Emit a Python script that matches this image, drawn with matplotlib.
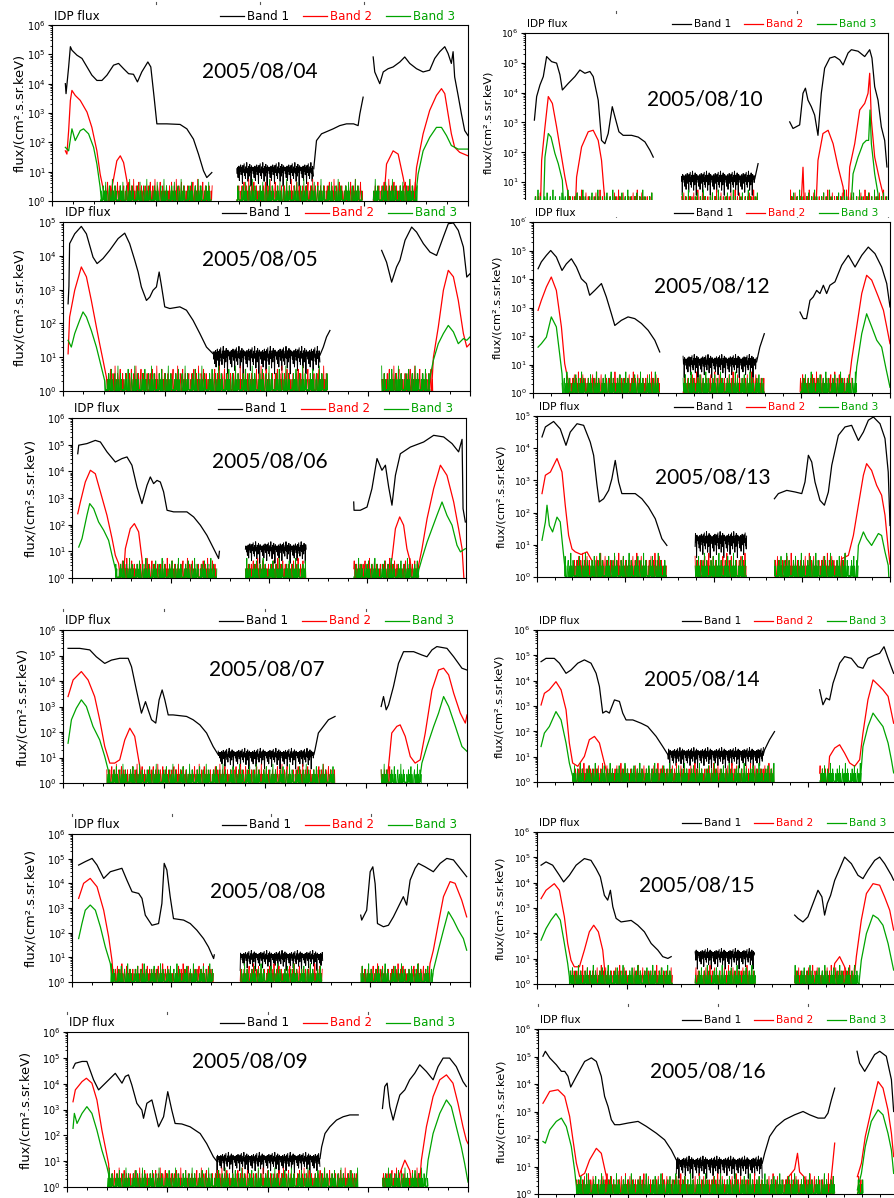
import numpy as np
import matplotlib
matplotlib.use("Agg")
import matplotlib.pyplot as plt
from matplotlib.lines import Line2D
from matplotlib.patches import Rectangle
from matplotlib.ticker import MultipleLocator

W, H = 894, 1198
BLACK, RED, GREEN = "#000000", "#ff0000", "#00a400"
YLABEL = "flux/(cm².s.sr.keV)"

# typical count levels of the noisy floors
floor_red = [0.5, 2.2, 1.1, 3.3, 0.5, 1.1, 2.2, 4.4, 0.5, 1.1, 2.2, 0.5, 3.3, 1.1, 2.2, 0.5,
             5.5, 1.1, 2.2, 0.5, 1.1, 3.3, 2.2, 0.5, 1.1, 2.2, 4.4, 1.1, 0.5, 2.2, 1.1, 3.3,
             0.5, 2.2, 1.1, 0.5, 2.2, 1.1, 3.3, 0.5, 1.1]
floor_green = [1.1, 0.5, 2.2, 1.1, 0.5, 3.3, 1.1, 2.2, 0.5, 1.1, 4.4, 0.5, 2.2, 1.1, 0.5, 1.1,
               2.2, 3.3, 0.5, 1.1, 2.2, 0.5, 1.1, 5.5, 0.5, 2.2, 1.1, 0.5, 3.3, 1.1, 2.2, 0.5, 1.1]
# log10 scatter of band 1 around its quiet level
jit_b1 = [0.05, -0.12, 0.10, -0.25, 0.02, 0.14, -0.35, 0.08, -0.04, 0.18, -0.15, 0.00, 0.11,
          -0.45, 0.16, -0.08, 0.06, 0.22, -0.18, 0.03, -0.28, 0.12, -0.06, 0.26, -0.10, 0.05,
          -0.38, 0.13, 0.00, -0.20, 0.20, -0.07, 0.09, -0.55, 0.15, -0.02, 0.10]

# every curve: (hour of day, log10 flux); q = quiet band-1 stretch (start, end, log10 level)
# f = stretches where band 2 / band 3 sit on the count floor

# ---- 2005/08/04
b1_0804 = [[(0.77, 4.0), (0.81, 3.66), (0.96, 4.57), (1.06, 5.26), (1.15, 5.14), (1.44, 4.97), (1.73, 4.86),
            (2.02, 4.57), (2.30, 4.29), (2.59, 4.11), (2.88, 4.11), (3.17, 4.29), (3.55, 4.63), (3.84, 4.69),
            (4.13, 4.51), (4.42, 4.34), (4.70, 4.32), (4.93, 4.06), (5.18, 4.40), (5.53, 4.74), (5.70, 4.57),
            (5.89, 3.54), (6.05, 2.63), (6.62, 2.63), (7.39, 2.61), (7.78, 2.46), (8.16, 2.11), (8.45, 1.60),
            (8.74, 1.03), (8.93, 0.80), (9.12, 0.91), (9.22, 0.97)],
           [(15.1, 1.1), (15.26, 2.06), (15.55, 2.29), (16.22, 2.46), (16.6, 2.57), (16.99, 2.63), (17.4, 2.63),
            (17.66, 2.57), (17.76, 2.97), (17.95, 3.54)],
           [(18.53, 4.91), (18.62, 4.40), (18.91, 4.0), (19.11, 4.40), (19.39, 4.51), (19.68, 4.57), (20.07, 4.74),
            (20.35, 4.91), (20.64, 4.69), (21.03, 4.51), (21.41, 4.40), (21.79, 4.46), (22.08, 4.86), (22.37, 5.09),
            (22.66, 5.26), (22.85, 5.03), (23.04, 4.69), (23.14, 5.09), (23.23, 4.23), (23.43, 3.60), (23.62, 2.97),
            (23.81, 2.40), (24.0, 2.23)]]
q1_0804 = [(10.66, 15.1, 1.05)]
b2_0804 = [[(0.77, 1.71), (0.86, 1.60), (0.96, 2.40), (1.06, 3.43), (1.15, 3.77), (1.34, 3.60), (1.63, 3.43),
            (2.02, 3.03), (2.30, 2.51), (2.59, 1.71), (2.78, 0.91), (2.98, 0.34), (3.1, -0.3)],
           [(3.3, -0.3), (3.46, 0.46), (3.74, 1.37), (3.94, 1.54), (4.13, 1.31), (4.32, 0.69), (4.51, -0.3)],
           [(19.1, -0.3), (19.30, 1.26), (19.68, 1.71), (19.97, 1.60), (20.26, 0.80), (20.45, 0.17), (20.6, -0.3)],
           [(20.85, -0.3), (21.03, 1.14), (21.41, 2.29), (21.79, 3.09), (22.18, 3.60), (22.47, 3.83), (22.66, 3.66),
            (22.85, 2.97), (23.04, 2.29), (23.23, 1.83), (23.52, 1.66), (24.0, 1.54)]]
f2_0804 = [(3.0, 9.25), (10.66, 17.95), (18.53, 21.0)]
b3_0804 = [[(0.77, 1.83), (0.96, 1.71), (1.15, 2.46), (1.34, 2.06), (1.63, 2.40), (1.82, 2.46), (2.11, 2.29),
            (2.40, 1.83), (2.59, 1.26), (2.78, 0.46), (2.9, -0.3)],
           [(20.9, -0.3), (21.12, 0.91), (21.41, 1.71), (21.79, 2.17), (22.18, 2.51), (22.47, 2.51), (22.76, 2.23),
            (23.04, 1.89), (23.43, 1.77), (24.0, 1.77)]]
f3_0804 = [(2.8, 9.2), (10.66, 17.95), (18.53, 21.1)]

# ---- 2005/08/05
b1_0805 = [[(0.30, 2.58), (0.35, 3.1), (0.39, 4.36), (0.69, 4.65), (1.08, 4.87), (1.38, 4.65), (1.77, 3.96),
            (2.01, 3.77), (2.36, 3.92), (2.75, 4.16), (3.25, 4.51), (3.64, 4.67), (3.93, 4.36), (4.23, 3.87),
            (4.43, 3.52), (4.62, 3.08), (4.92, 2.68), (5.12, 2.78), (5.31, 2.98), (5.51, 3.08), (5.67, 3.52),
            (5.80, 3.13), (6.00, 2.49), (6.30, 2.44), (6.89, 2.49), (7.28, 2.39), (7.67, 2.09), (8.07, 1.70),
            (8.46, 1.30), (8.85, 1.10)],
           [(15.15, 1.06), (15.35, 1.30), (15.54, 1.60), (15.74, 1.79)],
           [(18.79, 4.16), (19.08, 3.81), (19.38, 3.22), (19.67, 3.67), (19.87, 3.87), (20.17, 4.46), (20.56, 4.85),
            (20.85, 4.70), (21.25, 4.36), (21.64, 4.11), (22.03, 4.01), (22.43, 4.56), (22.72, 4.95), (23.02, 4.97),
            (23.31, 4.75), (23.61, 4.26), (23.81, 3.37), (24.0, 3.47)]]
q1_0805 = [(8.85, 15.15, 1.06)]
b2_0805 = [[(0.30, 1.10), (0.39, 2.19), (0.69, 2.98), (1.08, 3.67), (1.38, 3.38), (1.67, 2.68), (1.97, 1.89),
            (2.16, 1.40), (2.36, 0.91), (2.56, 0.41), (2.7, -0.3)],
           [(21.7, -0.3), (21.84, 0.99), (22.13, 1.89), (22.43, 2.98), (22.72, 3.57), (23.02, 3.38), (23.31, 2.68),
            (23.61, 1.70), (23.81, 1.30), (24.0, 1.40)]]
f2_0805 = [(2.56, 15.6), (18.79, 21.84)]
b3_0805 = [[(0.30, 1.50), (0.49, 1.30), (0.69, 1.70), (0.98, 2.09), (1.18, 2.34), (1.38, 2.19), (1.67, 1.79),
            (1.97, 1.30), (2.26, 0.71), (2.46, 0.3), (2.55, -0.3)],
           [(21.5, -0.3), (21.64, 0.4), (21.84, 0.91), (22.13, 1.40), (22.43, 1.70), (22.72, 1.94), (23.02, 1.75),
            (23.31, 1.40), (23.61, 1.55), (23.81, 1.50), (24.0, 1.60)]]
f3_0805 = [(2.46, 15.6), (18.79, 21.64)]

# ---- 2005/08/06
b1_0806 = [[(0.35, 4.66), (0.41, 4.98), (0.91, 5.04), (1.42, 5.16), (1.73, 5.10), (2.13, 4.73), (2.64, 4.35),
            (3.05, 4.48), (3.35, 4.54), (3.65, 4.23), (3.96, 3.41), (4.26, 2.79), (4.57, 3.48), (4.77, 3.79),
            (4.97, 3.54), (5.18, 3.66), (5.38, 3.60), (5.58, 3.23), (5.79, 2.54), (6.19, 2.48), (7.0, 2.48),
            (7.41, 2.29), (7.82, 1.98), (8.22, 1.60), (8.63, 1.10), (8.93, 0.73), (8.98, 1.0)],
           [(17.16, 2.85), (17.18, 2.54), (17.56, 2.54), (17.97, 2.66), (18.27, 3.35), (18.58, 4.48), (18.88, 4.04),
            (19.09, 4.23), (19.29, 3.41), (19.49, 2.73), (19.70, 3.85), (20.0, 4.66), (20.61, 4.91), (21.42, 5.10),
            (22.03, 5.35), (22.64, 5.29), (23.15, 5.04), (23.55, 4.73), (23.76, 5.20), (23.80, 3.5), (23.82, 2.60),
            (23.96, 2.10)]]
q1_0806 = [(10.56, 14.27, 1.1)]
b2_0806 = [[(0.35, 2.41), (0.51, 2.85), (0.81, 3.60), (1.12, 4.04), (1.42, 3.91), (1.73, 3.23), (2.13, 2.35),
            (2.44, 1.48), (2.64, 0.85), (2.84, 0.54), (3.0, -0.3)],
           [(3.1, -0.3), (3.25, 1.10), (3.55, 1.85), (3.80, 2.04), (4.06, 1.73), (4.26, 0.73), (4.37, -0.3)],
           [(19.2, -0.3), (19.49, 0.73), (19.70, 1.85), (19.96, 2.29), (20.2, 1.98), (20.4, 1.10), (20.61, 0.60),
            (20.75, -0.3)],
           [(21.0, -0.3), (21.12, 0.5), (21.32, 1.10), (21.63, 2.23), (22.03, 3.35), (22.44, 4.23), (22.84, 3.85),
            (23.25, 2.85), (23.55, 1.85), (23.76, 1.10), (23.86, 0.10), (23.9, -0.3)]]
f2_0806 = [(2.8, 8.83), (10.56, 14.27), (17.16, 21.12)]
b3_0806 = [[(0.41, 1.16), (0.61, 1.48), (0.91, 2.35), (1.08, 2.79), (1.32, 2.60), (1.62, 2.10), (1.93, 1.79),
            (2.23, 1.41), (2.44, 0.85), (2.64, 0.35), (2.75, -0.3)],
           [(21.0, -0.3), (21.12, 0.3), (21.32, 0.73), (21.63, 1.35), (21.93, 1.85), (22.23, 2.35), (22.54, 2.85),
            (22.84, 2.35), (23.15, 1.98), (23.45, 1.23), (23.66, 0.98), (23.96, 1.10)]]
f3_0806 = [(2.64, 8.83), (10.56, 14.27), (17.16, 21.12)]

# ---- 2005/08/07
b1_0807 = [[(0.30, 5.28), (0.99, 5.28), (1.59, 5.22), (1.98, 4.95), (2.48, 4.69), (2.88, 4.82), (3.37, 4.89),
            (3.87, 4.89), (4.07, 4.56), (4.36, 3.65), (4.66, 2.74), (4.90, 3.19), (5.06, 2.87), (5.26, 2.48),
            (5.51, 2.35), (5.71, 3.26), (5.89, 3.65), (6.05, 3.26), (6.25, 2.67), (6.54, 2.67), (7.34, 2.61),
            (7.73, 2.48), (8.13, 2.28), (8.53, 1.96), (8.92, 1.43), (9.22, 1.11)],
           [(14.9, 1.11), (14.97, 1.30), (15.17, 1.96), (15.47, 2.22), (15.77, 2.48), (16.16, 2.61)],
           [(18.90, 3.0), (19.04, 3.39), (19.20, 2.87), (19.34, 3.06), (19.63, 3.78), (19.93, 4.69), (20.23, 5.15),
            (20.83, 5.15), (21.32, 5.02), (21.62, 4.95), (21.92, 5.22), (22.21, 5.35), (22.81, 5.28), (23.21, 4.95),
            (23.70, 4.50), (24.0, 4.43)]]
q1_0807 = [(9.22, 14.9, 1.1)]
b2_0807 = [[(0.30, 3.39), (0.60, 4.04), (1.09, 4.37), (1.49, 4.04), (1.88, 3.39), (2.18, 2.48), (2.48, 1.43),
            (2.78, 0.78), (3.07, 0.78), (3.37, 0.91), (3.67, 1.69), (3.97, 2.15), (4.26, 1.83), (4.56, 0.65),
            (4.7, -0.3)],
           [(19.2, -0.3), (19.53, 1.96), (19.83, 2.22), (20.03, 2.28), (20.33, 1.83), (20.63, 1.04), (20.92, 0.78),
            (21.22, 0.91), (21.52, 1.96), (21.92, 3.65), (22.31, 4.43), (22.61, 4.50), (22.91, 4.24), (23.21, 3.52),
            (23.60, 2.74), (23.90, 2.35), (24.0, 2.67)]]
f2_0807 = [(2.6, 16.16), (18.90, 19.5)]
b3_0807 = [[(0.30, 1.56), (0.50, 2.48), (0.79, 2.93), (1.09, 3.26), (1.39, 3.00), (1.78, 2.22), (2.18, 1.69),
            (2.48, 1.04), (2.68, 0.52), (2.8, -0.3)],
           [(21.1, -0.3), (21.32, 0.78), (21.62, 1.43), (22.02, 2.22), (22.31, 2.74), (22.61, 3.39), (22.91, 3.00),
            (23.31, 2.22), (23.70, 1.43), (24.0, 1.24)]]
f3_0807 = [(2.6, 16.16), (18.90, 21.32)]

# ---- 2005/08/08
b1_0808 = [[(0.40, 4.74), (0.80, 4.88), (1.21, 5.01), (1.51, 4.74), (1.91, 4.20), (2.31, 4.47), (3.01, 4.61),
            (3.31, 4.13), (3.62, 3.66), (4.02, 3.59), (4.22, 3.39), (4.42, 2.71), (4.82, 2.30), (5.22, 2.37),
            (5.42, 3.18), (5.56, 4.81), (5.72, 4.54), (5.92, 3.46), (6.12, 2.57), (6.73, 2.51), (7.13, 2.37),
            (7.53, 2.10), (7.93, 1.76), (8.23, 1.42), (8.54, 0.95), (8.58, 1.1)],
           [(17.41, 2.71), (17.47, 2.51), (17.77, 2.91), (17.98, 4.47), (18.14, 4.67), (18.28, 3.98), (18.42, 2.37),
            (18.78, 2.24), (19.08, 2.30), (19.38, 2.64), (19.68, 3.05), (19.98, 3.46), (20.18, 3.12), (20.39, 4.13),
            (20.69, 4.61), (20.89, 4.81), (21.29, 4.67), (21.79, 4.47), (22.20, 4.81), (22.60, 5.01), (23.0, 4.95),
            (23.40, 4.61), (23.80, 4.27)]]
q1_0808 = [(10.14, 15.12, 1.02)]
b2_0808 = [[(0.40, 3.39), (0.70, 4.0), (1.10, 4.20), (1.51, 3.86), (1.91, 2.91), (2.21, 1.83), (2.41, 0.88),
            (2.55, -0.3)],
           [(21.45, -0.3), (21.59, 0.75), (21.79, 1.29), (22.09, 2.37), (22.40, 3.46), (22.80, 4.07), (23.10, 4.00),
            (23.50, 3.32), (23.80, 2.64)]]
f2_0808 = [(2.41, 8.54), (10.14, 15.12), (17.41, 21.59)]
b3_0808 = [[(0.40, 1.76), (0.60, 2.37), (0.80, 2.91), (1.10, 3.12), (1.41, 2.91), (1.71, 2.24), (2.01, 1.42),
            (2.31, 0.75), (2.41, 0.2), (2.5, -0.3)],
           [(21.65, -0.3), (21.79, 0.47), (22.09, 1.29), (22.40, 2.10), (22.70, 2.85), (23.0, 2.51), (23.30, 2.10),
            (23.60, 1.76), (23.80, 1.29)]]
f3_0808 = [(2.31, 8.54), (10.14, 15.12), (17.41, 21.79)]

# ---- 2005/08/09
b1_0809 = [[(0.36, 4.60), (0.50, 4.79), (0.90, 4.86), (1.19, 4.86), (1.59, 4.15), (1.89, 3.76), (2.39, 4.08),
            (2.89, 4.40), (3.29, 4.02), (3.49, 4.28), (3.68, 4.34), (3.88, 3.95), (4.18, 3.24), (4.48, 2.98),
            (4.58, 2.66), (4.78, 3.24), (5.08, 3.37), (5.28, 2.85), (5.48, 2.33), (5.78, 2.72), (6.03, 3.69),
            (6.27, 2.98), (6.47, 2.46), (6.87, 2.44), (7.37, 2.33), (7.97, 2.07), (8.36, 1.68), (8.76, 1.17),
            (8.96, 1.0)],
           [(15.14, 1.1), (15.24, 1.55), (15.44, 2.07), (15.73, 2.33), (16.13, 2.59), (16.53, 2.72), (16.93, 2.79),
            (17.43, 2.79)],
           [(18.88, 3.04), (19.02, 3.89), (19.16, 4.02), (19.32, 3.11), (19.52, 2.59), (19.72, 3.11), (19.92, 3.56),
            (20.22, 3.76), (20.51, 4.15), (20.81, 4.40), (21.11, 4.73), (21.51, 4.47), (21.91, 4.15), (22.21, 4.66),
            (22.51, 4.99), (22.90, 4.99), (23.30, 4.66), (23.70, 4.08), (23.90, 3.89)]]
q1_0809 = [(8.96, 15.14, 1.08)]
b2_0809 = [[(0.36, 3.30), (0.50, 3.76), (0.90, 4.08), (1.16, 4.21), (1.49, 4.02), (1.79, 3.37), (2.09, 2.20),
            (2.29, 1.55), (2.49, 0.9), (2.6, -0.3)],
           [(19.8, -0.3), (19.92, 0.52), (20.22, 1.04), (20.51, 0.65), (20.7, -0.3)],
           [(21.05, -0.3), (21.21, 1.04), (21.51, 2.33), (21.91, 3.50), (22.31, 4.15), (22.71, 4.34), (23.10, 4.02),
            (23.40, 3.24), (23.70, 2.33), (23.90, 1.81), (24.0, 1.68)]]
f2_0809 = [(2.49, 17.43), (18.88, 21.21)]
b3_0809 = [[(0.36, 2.27), (0.44, 2.85), (0.60, 2.46), (0.90, 2.85), (1.19, 3.11), (1.49, 2.85), (1.79, 2.20),
            (2.09, 1.42), (2.39, 0.78), (2.49, 0.5), (2.55, -0.3)],
           [(21.4, -0.3), (21.61, 1.04), (21.91, 2.07), (22.31, 2.85), (22.71, 3.37), (23.0, 3.11), (23.30, 2.33),
            (23.60, 1.55), (23.80, 0.91), (24.0, 0.19)]]
f3_0809 = [(2.39, 17.43), (18.88, 21.61)]

# ---- 2005/08/10
b1_0810 = [[(0.62, 3.08), (0.77, 3.87), (0.99, 4.26), (1.21, 4.54), (1.43, 5.21), (1.76, 5.04), (2.09, 4.99),
            (2.31, 4.60), (2.47, 4.09), (2.86, 4.31), (3.30, 4.54), (3.63, 4.76), (3.96, 4.65), (4.29, 4.71),
            (4.51, 4.54), (4.84, 3.75), (5.06, 2.40), (5.28, 2.29), (5.50, 2.63), (5.77, 3.53), (5.94, 3.20),
            (6.21, 2.69), (6.49, 2.57), (7.05, 2.57), (7.49, 2.51), (7.93, 2.35), (8.26, 2.07), (8.48, 1.84)],
           [(15.19, 1.11), (15.41, 1.62)],
           [(17.50, 3.02), (17.72, 2.80), (18.16, 2.92), (18.38, 3.98), (18.54, 4.15), (18.71, 3.75), (18.93, 3.53),
            (19.15, 3.25), (19.37, 2.57), (19.59, 3.98), (19.81, 4.82), (20.15, 5.16), (20.48, 5.21), (20.81, 5.10),
            (21.03, 4.93), (21.36, 5.33), (21.58, 5.44), (22.02, 5.39), (22.46, 5.21), (22.79, 5.44), (22.94, 5.16),
            (23.12, 4.20), (23.34, 3.75), (23.56, 2.85), (23.78, 2.40), (23.93, 1.51)]]
q1_0810 = [(10.35, 15.19, 1.11)]
b2_0810 = [[(1.0, -0.3), (1.10, 1.73), (1.32, 2.85), (1.54, 3.87), (1.81, 3.64), (2.09, 2.85), (2.42, 1.84),
            (2.64, 1.17), (2.86, 0.61), (3.0, -0.3)],
           [(3.3, -0.3), (3.41, 1.17), (3.74, 2.18), (4.18, 2.69), (4.51, 2.74), (4.84, 2.40), (5.06, 1.73),
            (5.24, 0.61), (5.3, -0.3)],
           [(18.2, -0.3), (18.38, 1.5), (18.5, -0.3)],
           [(19.2, -0.3), (19.37, 1.73), (19.70, 2.63), (20.04, 2.74), (20.37, 2.29), (20.70, 1.51), (21.03, 0.84),
            (21.2, -0.3)],
           [(21.3, -0.3), (21.47, 1.51), (21.80, 2.29), (22.13, 3.42), (22.46, 3.64), (22.68, 3.98), (22.79, 4.65),
            (22.90, 3.08), (23.12, 1.84), (23.45, 1.06), (23.67, 0.61), (23.8, -0.3)]]
f2_0810 = [(0.62, 1.1), (2.86, 8.48), (10.35, 15.41), (17.50, 24.0)]
b3_0810 = [[(1.2, -0.3), (1.32, 1.84), (1.54, 2.63), (1.72, 2.51), (1.98, 1.96), (2.20, 1.62), (2.47, 1.06),
            (2.6, -0.3)],
           [(21.5, -0.3), (21.69, 1.28), (22.02, 1.84), (22.35, 2.29), (22.57, 2.40), (22.72, 2.40), (22.81, 3.42),
            (22.90, 2.29), (23.12, 1.28), (23.34, 0.61), (23.4, -0.3)]]
f3_0810 = [(0.62, 8.48), (10.35, 15.41), (17.50, 24.0)]

# ---- 2005/08/12
b1_0812 = [[(0.34, 4.36), (0.56, 4.60), (0.90, 4.83), (1.19, 5.0), (1.57, 4.77), (1.95, 4.30), (2.24, 4.53),
            (2.58, 4.71), (2.92, 4.42), (3.25, 4.01), (3.59, 3.84), (3.81, 3.43), (4.15, 3.60), (4.60, 3.84),
            (4.93, 3.37), (5.27, 2.78), (5.50, 2.37), (5.94, 2.55), (6.39, 2.67), (6.84, 2.61), (7.29, 2.44),
            (7.74, 2.20), (8.19, 1.85), (8.52, 1.44)],
           [(15.03, 1.09), (15.25, 1.61), (15.55, 2.08)],
           [(17.95, 2.84), (18.17, 2.61), (18.39, 2.61), (18.62, 3.25), (18.84, 3.37), (19.07, 3.60), (19.29, 3.49),
            (19.52, 3.78), (19.74, 3.49), (19.96, 3.78), (20.30, 3.90), (20.75, 4.48), (21.20, 4.83), (21.65, 4.42),
            (22.10, 4.83), (22.54, 5.12), (22.99, 4.89), (23.44, 4.42), (23.78, 3.84), (24.0, 3.02)]]
q1_0812 = [(10.09, 15.03, 1.09)]
b2_0812 = [[(0.34, 2.90), (0.56, 3.25), (0.90, 3.72), (1.23, 4.07), (1.57, 3.60), (1.91, 2.32), (2.13, 1.03),
            (2.36, 0.44), (2.5, -0.3)],
           [(21.1, -0.3), (21.42, 1.15), (21.76, 2.32), (22.10, 3.49), (22.43, 4.13), (22.77, 3.96), (23.22, 3.37),
            (23.56, 2.90), (23.78, 2.32), (24.0, 1.73)]]
f2_0812 = [(2.36, 8.52), (10.09, 15.55), (17.95, 21.42)]
b3_0812 = [[(0.34, 1.61), (0.56, 1.73), (0.90, 1.96), (1.23, 2.67), (1.57, 2.32), (1.79, 1.38), (1.95, 0.68),
            (2.05, -0.3)],
           [(21.6, -0.3), (21.76, 0.91), (22.10, 2.08), (22.43, 2.78), (22.77, 2.32), (23.11, 1.85), (23.44, 1.61),
            (23.71, 0.91), (24.0, 0.2)]]
f3_0812 = [(1.95, 8.52), (10.09, 15.55), (17.95, 21.76)]

# ---- 2005/08/13
b1_0813 = [[(0.34, 4.35), (0.57, 4.66), (1.13, 4.83), (1.58, 4.60), (1.97, 4.09), (2.26, 4.50), (2.72, 4.76),
            (3.17, 4.71), (3.62, 4.19), (3.85, 3.78), (4.08, 2.85), (4.23, 2.33), (4.53, 2.43), (4.87, 2.69),
            (5.09, 3.05), (5.32, 3.62), (5.55, 2.95), (5.77, 2.59), (6.23, 2.59), (6.68, 2.59), (7.13, 2.43),
            (7.58, 2.17), (8.04, 1.81), (8.49, 1.19), (8.83, 0.98)],
           [(16.14, 2.43), (16.41, 2.59), (16.98, 2.69), (17.55, 2.64), (18.0, 2.59), (18.22, 2.95), (18.45, 3.78),
            (18.68, 3.57), (18.90, 2.95), (19.24, 2.38), (19.54, 2.23), (19.81, 2.64), (20.04, 3.47), (20.49, 4.40),
            (20.94, 4.66), (21.39, 4.71), (21.85, 4.24), (22.19, 4.50), (22.53, 4.87), (22.87, 4.97), (23.32, 4.76),
            (23.66, 4.30), (23.88, 3.26), (24.0, 1.6)]]
q1_0813 = [(10.75, 14.26, 1.15)]
b2_0813 = [[(0.34, 2.59), (0.57, 3.16), (0.91, 3.26), (1.36, 3.68), (1.70, 3.26), (1.92, 2.23), (2.15, 1.29),
            (2.38, 0.87), (2.60, 0.78), (3.0, 0.7), (3.4, 0.78), (3.74, 0.5), (3.9, -0.3)],
           [(20.6, -0.3), (20.72, 0.57), (21.17, 0.67), (21.51, 1.29), (21.85, 2.23), (22.19, 3.16), (22.41, 3.52),
            (22.75, 3.31), (23.09, 2.85), (23.43, 2.54), (23.66, 1.92), (23.88, 0.88), (24.0, 0.4)]]
f2_0813 = [(2.38, 8.83), (10.75, 14.26), (16.14, 21.0)]
b3_0813 = [[(0.34, 1.14), (0.57, 1.71), (0.68, 2.23), (0.84, 1.60), (1.06, 1.40), (1.36, 1.86), (1.58, 1.71),
            (1.74, 0.98), (1.88, 0.36), (1.95, -0.3)],
           [(21.7, -0.3), (21.85, 0.98), (22.19, 1.40), (22.41, 1.19), (22.75, 0.98), (23.21, 1.35), (23.43, 1.29),
            (23.66, 0.78), (23.88, 0.36), (23.95, -0.3)]]
f3_0813 = [(1.88, 8.83), (10.75, 14.26), (16.14, 21.85)]

# ---- 2005/08/14
b1_0814 = [[(0.27, 4.75), (0.60, 4.88), (1.15, 4.88), (1.49, 4.69), (1.93, 4.29), (2.26, 4.42), (2.71, 4.69),
            (3.15, 4.82), (3.59, 4.69), (3.93, 4.29), (4.15, 3.77), (4.37, 2.72), (4.59, 2.80), (4.81, 2.72),
            (5.15, 3.24), (5.48, 3.18), (5.70, 2.72), (5.92, 2.45), (6.37, 2.45), (6.92, 2.32), (7.36, 2.19),
            (7.92, 1.80), (8.36, 1.40), (8.70, 1.08)],
           [(15.05, 1.1), (15.13, 1.27), (15.46, 1.67), (15.79, 1.99)],
           [(18.79, 3.64), (19.01, 3.05), (19.23, 3.31), (19.45, 3.24), (19.68, 3.90), (19.90, 4.29), (20.12, 4.69),
            (20.45, 4.95), (20.90, 4.88), (21.34, 4.55), (21.67, 4.49), (22.0, 4.88), (22.45, 5.01), (22.78, 5.08),
            (23.07, 5.34), (23.34, 4.88), (23.71, 4.29)]]
q1_0814 = [(8.70, 15.05, 1.1)]
b2_0814 = [[(0.27, 3.04), (0.49, 3.50), (0.82, 3.64), (1.26, 3.96), (1.60, 3.64), (1.93, 2.85), (2.15, 1.54),
            (2.37, 0.75), (2.71, 0.62), (3.15, 1.01), (3.48, 1.67), (3.82, 1.80), (4.15, 1.54), (4.48, 0.75),
            (4.70, 0.22), (4.8, -0.3)],
           [(19.3, -0.3), (19.45, 1.01), (19.79, 1.34), (20.12, 1.47), (20.45, 1.14), (20.79, 0.75), (21.12, 0.62),
            (21.45, 0.88), (21.67, 1.93), (22.0, 3.24), (22.34, 4.03), (22.67, 3.84), (23.0, 3.64), (23.34, 3.38),
            (23.71, 2.32)]]
f2_0814 = [(2.37, 15.79), (18.79, 19.45)]
b3_0814 = [[(0.27, 1.40), (0.49, 1.93), (0.82, 2.19), (1.26, 2.78), (1.60, 2.45), (1.93, 1.54), (2.15, 0.75),
            (2.37, 0.22), (2.45, -0.3)],
           [(21.45, -0.3), (21.67, 1.40), (22.0, 2.19), (22.34, 2.72), (22.67, 2.45), (23.0, 2.19), (23.34, 1.54),
            (23.56, 0.88), (23.71, 0.36)]]
f3_0814 = [(2.37, 15.79), (18.79, 21.56)]

# ---- 2005/08/15
b1_0815 = [[(0.27, 4.69), (0.60, 4.82), (1.04, 4.69), (1.49, 4.29), (1.77, 4.03), (2.15, 4.29), (2.60, 4.69),
            (3.15, 4.95), (3.59, 4.88), (3.93, 4.55), (4.21, 4.23), (4.48, 3.50), (4.70, 3.31), (4.88, 3.70),
            (5.04, 3.05), (5.26, 2.59), (5.59, 2.45), (6.26, 2.51), (6.70, 2.32), (7.14, 2.06), (7.59, 1.60),
            (8.03, 1.34), (8.36, 1.08), (8.70, 1.01), (8.92, 1.08)],
           [(17.13, 2.72), (17.35, 2.59), (17.68, 2.45), (18.01, 2.65), (18.35, 3.18), (18.68, 3.70), (18.94, 3.44),
            (19.12, 2.72), (19.30, 3.18), (19.52, 3.50), (19.79, 4.09), (20.12, 4.55), (20.45, 5.01), (20.90, 4.75),
            (21.34, 4.29), (21.67, 4.16), (22.0, 4.49), (22.45, 4.88), (22.78, 5.01), (23.11, 4.75), (23.56, 4.29),
            (23.71, 4.1)]]
q1_0815 = [(10.51, 14.46, 1.14)]
b2_0815 = [[(0.27, 3.37), (0.60, 3.70), (1.15, 3.96), (1.49, 3.70), (1.82, 2.65), (2.04, 1.60), (2.26, 0.94),
            (2.48, 0.68), (2.82, 0.68), (3.15, 1.34), (3.48, 2.06), (3.77, 2.32), (4.08, 2.06), (4.37, 1.34),
            (4.48, 0.68), (4.55, -0.3)],
           [(19.6, -0.3), (19.79, 0.81), (20.12, 1.08), (20.45, 0.68), (20.6, -0.3)],
           [(21.0, -0.3), (21.23, 1.08), (21.56, 2.52), (21.90, 3.57), (22.34, 3.96), (22.78, 3.90), (23.11, 3.44),
            (23.45, 2.91), (23.71, 2.13)]]
f2_0815 = [(2.26, 9.03), (10.51, 14.55), (17.13, 21.12)]
b3_0815 = [[(0.27, 1.73), (0.60, 2.19), (0.93, 2.52), (1.26, 2.78), (1.55, 2.52), (1.82, 1.60), (2.04, 0.81),
            (2.15, 0.29), (2.2, -0.3)],
           [(21.35, -0.3), (21.56, 0.94), (21.90, 1.99), (22.34, 2.72), (22.67, 2.59), (23.0, 2.32), (23.34, 1.60),
            (23.71, 0.55)]]
f3_0815 = [(2.15, 9.03), (10.51, 14.55), (17.13, 21.45)]

# ---- 2005/08/16
b1_0816 = [[(0.33, 5.01), (0.49, 5.19), (0.78, 4.95), (1.22, 4.70), (1.56, 4.46), (1.78, 4.46), (2.0, 4.28),
            (2.18, 3.89), (2.56, 4.28), (3.11, 4.82), (3.56, 4.95), (3.89, 4.82), (4.22, 4.28), (4.44, 3.55),
            (4.67, 3.18), (4.89, 2.70), (5.11, 2.52), (5.44, 2.52), (6.0, 2.58), (6.67, 2.64), (7.22, 2.46),
            (7.89, 2.21), (8.44, 1.97), (8.89, 1.60), (9.22, 1.24)],
           [(14.95, 1.12), (15.11, 1.48), (15.44, 2.09), (15.89, 2.45), (16.44, 2.70), (17.11, 2.88), (17.67, 3.0),
            (18.11, 2.88), (18.67, 2.76), (19.11, 2.76), (19.33, 2.94), (19.56, 3.43), (19.78, 3.85)],
           [(21.27, 5.19), (21.44, 4.76), (21.78, 4.46), (22.11, 4.76), (22.44, 5.07), (22.78, 5.19), (23.22, 5.01),
            (23.56, 4.16), (23.71, 3.0)]]
q1_0816 = [(9.22, 14.95, 1.12)]
b2_0816 = [[(0.33, 3.30), (0.44, 3.40), (0.78, 3.73), (1.33, 3.79), (1.78, 3.55), (2.11, 2.82), (2.33, 1.97),
            (2.56, 1.12), (2.78, 0.63), (3.11, 0.75), (3.44, 1.24), (3.89, 1.66), (4.22, 1.48), (4.56, 0.63),
            (4.65, -0.3)],
           [(16.5, -0.3), (16.67, 0.6), (17.11, 0.9), (17.3, 1.48), (17.44, 0.8), (17.78, 0.6), (18.0, -0.3)],
           [(19.33, -0.3), (19.56, 0.63), (19.78, 1.85)],
           [(21.29, 0.63), (21.56, 1.12), (21.82, 2.09), (22.22, 3.06), (22.67, 4.09), (23.0, 3.85), (23.33, 3.06),
            (23.56, 2.21), (23.71, 1.36)]]
f2_0816 = [(2.56, 19.78), (21.29, 21.6)]
b3_0816 = [[(0.33, 1.91), (0.49, 1.85), (0.78, 2.33), (1.22, 2.64), (1.56, 2.76), (1.89, 2.45), (2.22, 1.73),
            (2.44, 0.87), (2.56, 0.27), (2.6, -0.3)],
           [(21.29, 0.15), (21.56, 0.75), (21.82, 1.73), (22.22, 2.64), (22.67, 3.06), (23.0, 2.88), (23.33, 2.21),
            (23.56, 1.60), (23.71, 0.75)]]
f3_0816 = [(2.56, 19.78), (21.29, 21.7)]

dates = ["2005/08/04", "2005/08/05", "2005/08/06", "2005/08/07", "2005/08/08", "2005/08/09",
         "2005/08/10", "2005/08/12", "2005/08/13", "2005/08/14", "2005/08/15", "2005/08/16"]
data = [(b1_0804, q1_0804, b2_0804, f2_0804, b3_0804, f3_0804),
        (b1_0805, q1_0805, b2_0805, f2_0805, b3_0805, f3_0805),
        (b1_0806, q1_0806, b2_0806, f2_0806, b3_0806, f3_0806),
        (b1_0807, q1_0807, b2_0807, f2_0807, b3_0807, f3_0807),
        (b1_0808, q1_0808, b2_0808, f2_0808, b3_0808, f3_0808),
        (b1_0809, q1_0809, b2_0809, f2_0809, b3_0809, f3_0809),
        (b1_0810, q1_0810, b2_0810, f2_0810, b3_0810, f3_0810),
        (b1_0812, q1_0812, b2_0812, f2_0812, b3_0812, f3_0812),
        (b1_0813, q1_0813, b2_0813, f2_0813, b3_0813, f3_0813),
        (b1_0814, q1_0814, b2_0814, f2_0814, b3_0814, f3_0814),
        (b1_0815, q1_0815, b2_0815, f2_0815, b3_0815, f3_0815),
        (b1_0816, q1_0816, b2_0816, f2_0816, b3_0816, f3_0816)]
ytop = [6, 5, 6, 6, 6, 6, 6, 6, 5, 6, 6, 6]

# layout in pixels: axes box (left, top, right, bottom), date text centre, y-label x
boxes = [(52, 25, 468, 201), (63, 222, 470, 391), (72, 418, 466, 578), (63, 630, 467, 783),
         (72, 834, 470, 982), (67, 1032, 468, 1187),
         (525, 33, 888, 212), (533, 222, 890, 393), (537, 416, 890, 577), (537, 630, 898, 782),
         (537, 832, 898, 984), (538, 1029, 898, 1194)]
date_xy = [(260, 71), (260, 259), (270, 462), (267, 670), (268, 891), (250, 1061),
           (705, 100), (712, 287), (713, 477), (702, 679), (697, 886), (708, 1071)]
ylab_x = [20, 20, 31, 23, 31, 26, 488, 497, 501, 499, 500, 501]
dots = {0: (3, [6, 12, 18]), 3: (610, [0, 6, 12, 18]), 4: (815, [0, 6, 12, 18]),
        5: (1013, [0, 6, 12, 18]), 6: (12, [6, 18]), 11: (1005, [0, 6, 12, 18])}


def fx(px):
    return px / W


def fy(py):
    return 1 - py / H


def draw_segs(ax, segs, color):
    for s in segs:
        h, v = zip(*s)
        ax.plot(h, 10 ** np.array(v), color=color, lw=0.9)


def draw_floor(ax, spans, pattern, color, k):
    for j, (a, b) in enumerate(spans):
        x = np.arange(a, b, 0.03)
        y = np.resize(np.roll(pattern, 7 * j + k), len(x))
        ax.plot(x, y, color=color, lw=0.6)


def draw_quiet(ax, spans, k):
    for j, (a, b, lv) in enumerate(spans):
        x = np.arange(a, b, 0.025)
        y = 10 ** (lv + np.resize(np.roll(jit_b1, 5 * j + k), len(x)))
        ax.plot(x, y, color=BLACK, lw=0.7)


fig = plt.figure(figsize=(W / 100, H / 100), dpi=100)

for i, (date, (b1, q1, b2, f2, b3, f3)) in enumerate(zip(dates, data)):
    l, t, r, b = boxes[i]
    right_col = i >= 6
    ax = fig.add_axes([fx(l), fy(b), (r - l) / W, (b - t) / H])
    ax.set_yscale("log")

    draw_segs(ax, b1, BLACK)
    draw_quiet(ax, q1, i)
    draw_floor(ax, f2, floor_red, RED, i)
    draw_segs(ax, b2, RED)
    draw_floor(ax, f3, floor_green, GREEN, 3 * i)
    draw_segs(ax, b3, GREEN)

    ax.set_xlim(0, 24)
    ax.set_ylim(1, 10 ** ytop[i])
    ax.xaxis.set_major_locator(MultipleLocator(6))
    ax.xaxis.set_minor_locator(MultipleLocator(1.2))
    ax.tick_params(axis="x", which="major", length=3.6, width=0.8, labelbottom=False)
    ax.tick_params(axis="x", which="minor", length=2.2, width=0.7)
    ax.tick_params(axis="y", which="major", length=3, width=0.8, pad=1.5,
                   labelsize=6.5 if right_col else 7)
    ax.tick_params(axis="y", which="minor", length=1.8, width=0.6)
    for sp in ax.spines.values():
        sp.set_linewidth(0.8)

    fs = 7.6 if right_col else 8.6
    ty = t - 9
    fig.text(fx(l + 2), fy(ty), "IDP flux", fontsize=fs, va="center", ha="left")
    offs = (216, 144, 71) if right_col else (248, 165, 82)
    llen = 19 if right_col else 24
    for name, col, off in zip(["Band 1", "Band 2", "Band 3"], [BLACK, RED, GREEN], offs):
        x0 = r - off
        fig.add_artist(Line2D([fx(x0), fx(x0 + llen)], [fy(ty), fy(ty)], color=col, lw=0.9))
        fig.text(fx(x0 + llen + 3), fy(ty), name, color=col, fontsize=fs, va="center", ha="left")

    fig.text(fx(ylab_x[i]), fy((t + b) / 2), YLABEL, rotation=90,
             fontsize=8.2 if right_col else 9.4, va="center", ha="center")
    dx, dy = date_xy[i]
    fig.text(fx(dx), fy(dy), date, fontsize=15, family=["Lato", "DejaVu Sans"],
             ha="center", va="center")

    if i in dots:
        yy, hrs = dots[i]
        for hh in hrs:
            px = l + hh / 24 * (r - l)
            fig.add_artist(Line2D([fx(px), fx(px)], [fy(yy - 1), fy(yy + 1)], color="#555555", lw=0.8))

    if i == 6:
        # the next screenshot sits over the bottom of this one
        fig.add_artist(Rectangle((fx(476), fy(217)), fx(418), 17 / H, facecolor="white",
                                 edgecolor="none", zorder=1))

fig.savefig("out.png", dpi=100)
